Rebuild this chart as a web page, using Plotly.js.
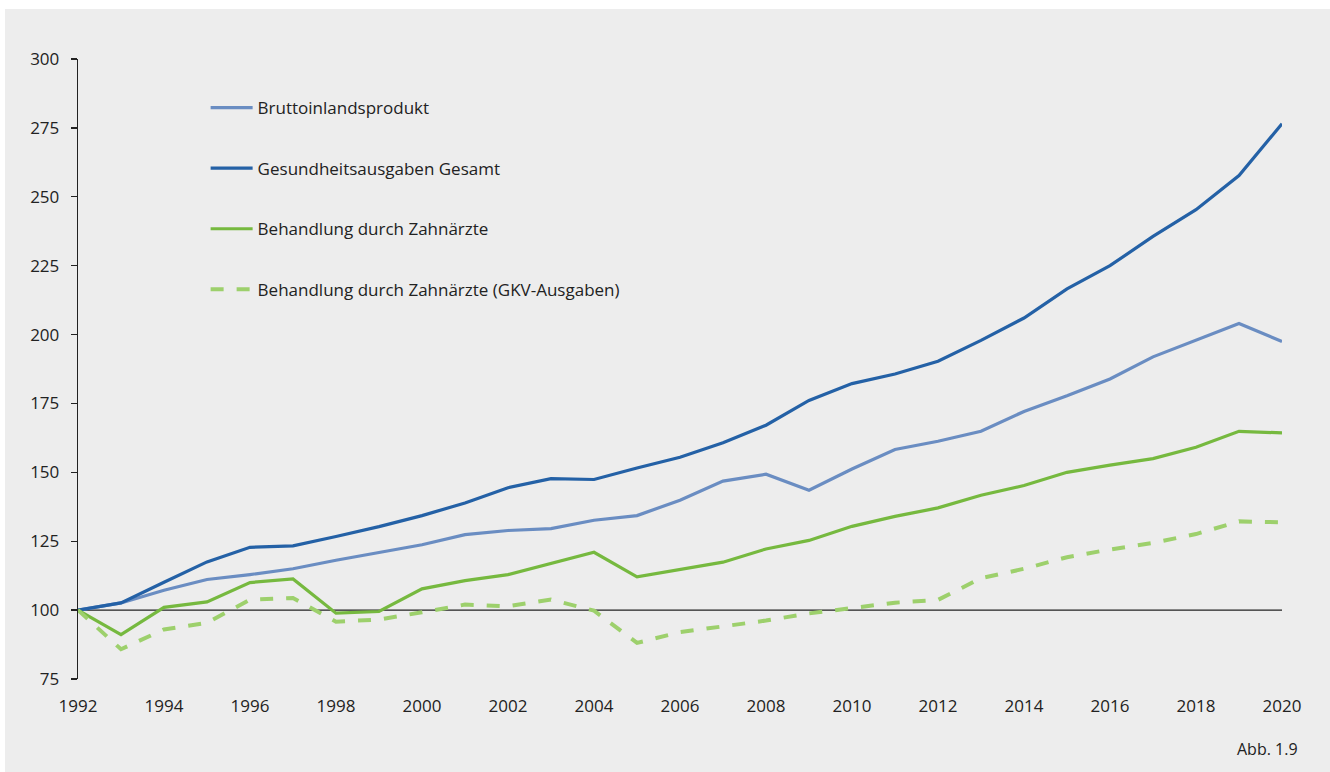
<!DOCTYPE html>
<html>
<head>
<meta charset="utf-8">
<script src="https://cdn.plot.ly/plotly-3.0.1.min.js"></script>
<style>
  html, body { margin: 0; padding: 0; background: #ffffff; }
  #wrap { position: absolute; left: 5px; top: 9px; width: 1325px; height: 763px; background: #ededed; }
  #chart { width: 1325px; height: 763px; }
</style>
</head>
<body>
<div id="wrap"><div id="chart"></div></div>
<script>
const years = [1992,1993,1994,1995,1996,1997,1998,1999,2000,2001,2002,2003,2004,2005,2006,2007,2008,2009,2010,2011,2012,2013,2014,2015,2016,2017,2018,2019,2020];

const seriesNames = [
  "Bruttoinlandsprodukt",
  "Gesundheitsausgaben Gesamt",
  "Behandlung durch Zahnärzte",
  "Behandlung durch Zahnärzte (GKV-Ausgaben)"
];

const bip = [100,102.6,107.2,111.1,112.9,115.0,118.1,120.8,123.7,127.4,128.9,129.6,132.6,134.3,139.9,146.8,149.3,143.5,151.2,158.3,161.3,164.9,172.1,177.8,183.9,191.9,197.9,204.0,197.5];
const gesundheit = [100,102.6,110.1,117.5,122.8,123.3,126.7,130.3,134.3,138.9,144.4,147.7,147.4,151.6,155.5,160.7,167.1,176.1,182.2,185.7,190.3,197.9,206.0,216.6,225.0,235.6,245.3,257.7,276.5];
const zahnaerzte = [100,91.1,101.0,103.0,110.0,111.3,98.9,99.5,107.7,110.7,112.9,116.9,121.0,112.1,114.7,117.4,122.2,125.3,130.4,134.0,137.1,141.7,145.2,150.0,152.6,155.0,159.1,164.9,164.3];
const gkv = [100,85.8,93.0,95.4,103.8,104.4,95.8,96.6,99.2,102.0,101.4,103.8,99.8,88.1,92.0,94.1,96.2,98.8,100.8,102.7,103.7,111.6,115.0,119.2,122.0,124.4,127.6,132.2,131.9];

const baseIndex = 100;
const yTicks = [75,100,125,150,175,200,225,250,275,300];
const xTickLabels = ["1992","1994","1996","1998","2000","2002","2004","2006","2008","2010","2012","2014","2016","2018","2020"];
const xTickVals = xTickLabels.map(Number);
const footnote = "Abb. 1.9";

const FONT = "Open Sans, Noto Sans, sans-serif";
const TXT = "#222222";

const traces = [
  {x: years, y: bip, name: seriesNames[0], legendgroup: "a", mode: "lines",
   line: {color: "#6a8dc2", width: 3.2}},
  {x: years, y: gesundheit, name: seriesNames[1], legendgroup: "b", mode: "lines",
   line: {color: "#2461a6", width: 3.2}},
  {x: years, y: zahnaerzte, name: seriesNames[2], legendgroup: "c", mode: "lines",
   line: {color: "#76b93f", width: 3.2}},
  {x: years, y: gkv, name: seriesNames[3], legendgroup: "d", mode: "lines",
   line: {color: "#9dd06c", width: 4, dash: "13px,13px"}}
];

const layout = {
  width: 1325, height: 763,
  paper_bgcolor: "#ededed",
  plot_bgcolor: "#ededed",
  margin: {l: 73, r: 48, t: 50, b: 93},
  font: {family: FONT, size: 17, color: TXT},
  showlegend: true,
  legend: {
    x: 0.106, xanchor: "left",
    y: 0.95, yanchor: "top",
    bgcolor: "rgba(0,0,0,0)",
    font: {family: FONT, size: 17, color: TXT},
    tracegroupgap: 35.5,
    traceorder: "grouped",
    itemwidth: 42
  },
  xaxis: {
    range: [1992, 2020],
    tickmode: "array",
    tickvals: xTickVals,
    ticktext: xTickLabels,
    ticks: "",
    showgrid: false,
    zeroline: false,
    showline: false,
    ticklabelstandoff: 15,
    tickfont: {family: FONT, size: 17, color: TXT},
    fixedrange: true
  },
  yaxis: {
    range: [75, 300],
    tickmode: "array",
    tickvals: yTicks,
    ticktext: yTicks.map(String),
    ticks: "outside",
    ticklen: 6,
    tickwidth: 1.3,
    tickcolor: "#222222",
    showline: true,
    linecolor: "#222222",
    linewidth: 1.3,
    showgrid: false,
    zeroline: false,
    ticklabelstandoff: 8,
    tickfont: {family: FONT, size: 17, color: TXT},
    fixedrange: true
  },
  shapes: [
    {type: "line", xref: "paper", yref: "y", x0: 0, x1: 1, y0: baseIndex, y1: baseIndex,
     line: {color: "#222222", width: 1.3}, layer: "below"}
  ],
  annotations: [
    {text: footnote, xref: "paper", yref: "paper", x: 1.015, y: -0.113,
     xanchor: "right", yanchor: "middle", showarrow: false,
     font: {family: FONT, size: 16, color: TXT}}
  ],
  hovermode: false
};

Plotly.newPlot("chart", traces, layout, {displayModeBar: false, staticPlot: true});
</script>
</body>
</html>
